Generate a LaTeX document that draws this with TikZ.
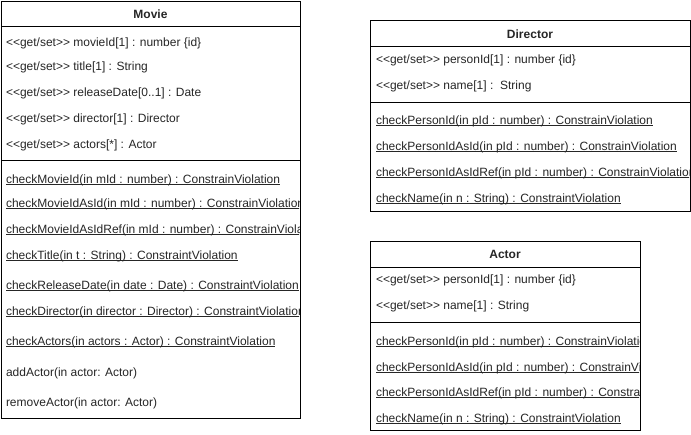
\documentclass[tikz,border=0pt]{standalone}
\usepackage{fontspec}
\setmainfont{Liberation Sans}
\newcommand\ulx[1]{\setbox0\hbox{#1}\rlap{\rule[-2pt]{\wd0}{0.7pt}}\box0}
\newcommand\gs{<{}<get/set>{}>}
\begin{document}
\begin{tikzpicture}[x=1pt,y=-1pt,
  every node/.style={inner sep=0pt, outer sep=0pt},
  cls/.style={draw, line width=1pt, anchor=north west},
  sep/.style={line width=1pt},
  txt/.style={anchor=base west, text=black!85, font=\fontsize{12}{14}\selectfont},
  ttl/.style={anchor=base, text=black!85, font=\fontsize{12}{14}\selectfont\bfseries}]
\useasboundingbox (0,0) rectangle (691,434);

% ---------- Movie ----------
\node[cls, minimum width=299pt, minimum height=417pt] (movie) at (1,1) {};
\draw[sep] ([yshift=-25pt]movie.north west) -- ([yshift=-25pt]movie.north east);
\draw[sep] ([yshift=-159pt]movie.north west) -- ([yshift=-159pt]movie.north east);
\node[ttl] (movieT) at (150.5,18.5) {Movie};
\begin{scope}
\clip (1,1) rectangle (299,418);
\node[txt] (m1) at (6,46) {\gs\ movieId[1] : number \{id\}};
\node[txt] (m2) at (6,70) {\gs\ title[1] : String};
\node[txt] (m3) at (6,96) {\gs\ releaseDate[0..1] : Date};
\node[txt] (m4) at (6,122) {\gs\ director[1] : Director};
\node[txt] (m5) at (6,148) {\gs\ actors[*] : Actor};
\node[txt] (mo1) at (6,183) {\ulx{checkMovieId(in mId : number) : ConstrainViolation}};
\node[txt] (mo2) at (6,207) {\ulx{checkMovieIdAsId(in mId : number) : ConstrainViolation}};
\node[txt] (mo3) at (6,233) {\ulx{checkMovieIdAsIdRef(in mId : number) : ConstrainViolation}};
\node[txt] (mo4) at (6,259) {\ulx{checkTitle(in t : String) : ConstraintViolation}};
\node[txt] (mo5) at (6,289) {\ulx{checkReleaseDate(in date : Date) : ConstraintViolation}};
\node[txt] (mo6) at (6,315) {\ulx{checkDirector(in director : Director) : ConstraintViolation}};
\node[txt] (mo7) at (6,345) {\ulx{checkActors(in actors : Actor) : ConstraintViolation}};
\node[txt] (mo8) at (6,376) {addActor(in actor: Actor)};
\node[txt] (mo9) at (6,406) {removeActor(in actor: Actor)};
\end{scope}

% ---------- Director ----------
\node[cls, minimum width=320pt, minimum height=191pt] (dir) at (370,20) {};
\draw[sep] ([yshift=-26pt]dir.north west) -- ([yshift=-26pt]dir.north east);
\draw[sep] ([yshift=-82pt]dir.north west) -- ([yshift=-82pt]dir.north east);
\node[ttl] (dirT) at (530,38.5) {Director};
\begin{scope}
\clip (370,20) rectangle (689,211);
\node[txt] (d1) at (376,63) {\gs\ personId[1] : number \{id\}};
\node[txt] (d2) at (376,89) {\gs\ name[1] :\ \ String};
\node[txt] (do1) at (376,124) {\ulx{checkPersonId(in pId : number) : ConstrainViolation}};
\node[txt] (do2) at (376,150) {\ulx{checkPersonIdAsId(in pId : number) : ConstrainViolation}};
\node[txt] (do3) at (376,176) {\ulx{checkPersonIdAsIdRef(in pId : number) : ConstrainViolation}};
\node[txt] (do4) at (376,202) {\ulx{checkName(in n : String) : ConstraintViolation}};
\end{scope}

% ---------- Actor ----------
\node[cls, minimum width=270pt, minimum height=189pt] (act) at (370,241) {};
\draw[sep] ([yshift=-26pt]act.north west) -- ([yshift=-26pt]act.north east);
\draw[sep] ([yshift=-81pt]act.north west) -- ([yshift=-81pt]act.north east);
\node[ttl] (actT) at (505,258.5) {Actor};
\begin{scope}
\clip (370,241) rectangle (639,430);
\node[txt] (a1) at (376,283) {\gs\ personId[1] : number \{id\}};
\node[txt] (a2) at (376,309) {\gs\ name[1] : String};
\node[txt] (ao1) at (376,345) {\ulx{checkPersonId(in pId : number) : ConstrainViolation}};
\node[txt] (ao2) at (376,371) {\ulx{checkPersonIdAsId(in pId : number) : ConstrainViolation}};
\node[txt] (ao3) at (376,396) {\ulx{checkPersonIdAsIdRef(in pId : number) : ConstrainViolation}};
\node[txt] (ao4) at (376,422) {\ulx{checkName(in n : String) : ConstraintViolation}};
\end{scope}
\end{tikzpicture}
\end{document}
